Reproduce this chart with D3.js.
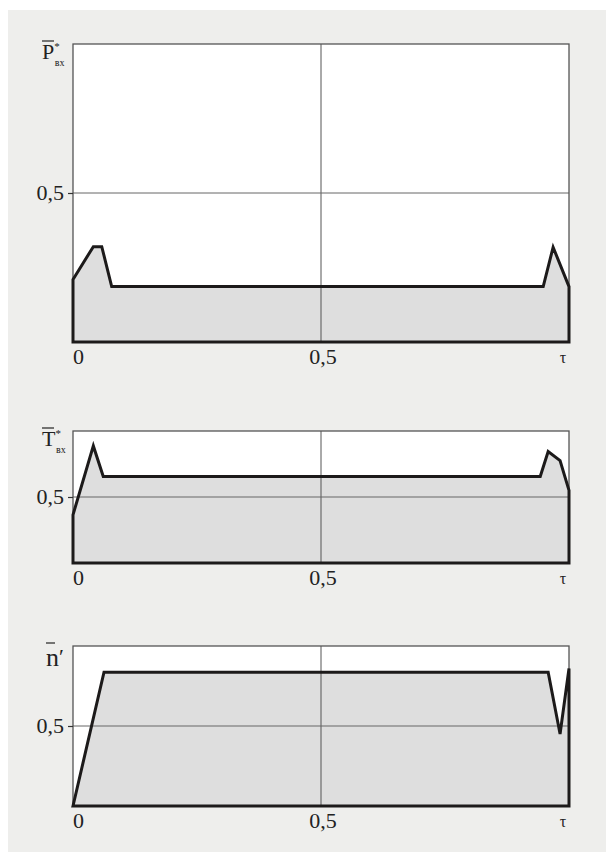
<!DOCTYPE html>
<html>
<head>
<meta charset="utf-8">
<script src="https://cdn.jsdelivr.net/npm/d3@7/dist/d3.min.js"></script>
<style>
  body { margin: 0; background: #ffffff; }
  svg { display: block; }
  text { font-family: "Liberation Serif", "Times New Roman", serif; }
</style>
</head>
<body>
<script>
// relative time τ and normalised values
const tauP = [0, 0.041, 0.058, 0.078, 0.948, 0.968, 1.0];
const valP = [0.21, 0.32, 0.32, 0.186, 0.186, 0.318, 0.186];

const tauT = [0, 0.041, 0.061, 0.942, 0.958, 0.982, 1.0];
const valT = [0.365, 0.887, 0.655, 0.655, 0.844, 0.776, 0.55];

const tauN = [0, 0.0625, 0.958, 0.982, 1.0];
const valN = [0, 0.836, 0.836, 0.45, 0.86];

const xTickValues = [0, 0.5, 1];
const xTickLabels = ["0", "0,5", "τ"];
const yTickValues = [0.5];
const yTickLabels = ["0,5"];

const width = 606, height = 860;
const left = 73, right = 569;

const svg = d3.select("body").append("svg")
  .attr("width", width)
  .attr("height", height);

svg.append("rect")
  .attr("x", 8).attr("y", 10)
  .attr("width", width - 8).attr("height", 842)
  .attr("fill", "#eeeeec");

const panels = [
  { tau: tauP, val: valP, top: 44, bottom: 342, letter: "P", sup: "*", sub: "вх", lx: 42, lsize: 22 },
  { tau: tauT, val: valT, top: 431, bottom: 563, letter: "T", sup: "*", sub: "вх", lx: 42, lsize: 22 },
  { tau: tauN, val: valN, top: 646, bottom: 806, letter: "n", sup: "′", sub: "", lx: 46, lsize: 26 }
];

const x = d3.scaleLinear().domain([0, 1]).range([left, right]);

panels.forEach(p => {
  const y = d3.scaleLinear().domain([0, 1]).range([p.bottom, p.top]);
  const g = svg.append("g");

  g.append("rect")
    .attr("x", x(0)).attr("y", y(1))
    .attr("width", x(1) - x(0)).attr("height", y(0) - y(1))
    .attr("fill", "#ffffff");

  const data = p.tau.map((t, i) => ({ t: t, v: p.val[i] }));
  const area = d3.area()
    .x(d => x(d.t))
    .y0(y(0))
    .y1(d => y(d.v));

  g.append("path")
    .datum(data)
    .attr("d", area)
    .attr("fill", "#dedede");

  // grid lines at 0,5
  g.append("line")
    .attr("x1", x(0.5)).attr("x2", x(0.5))
    .attr("y1", y(0)).attr("y2", y(1))
    .attr("stroke", "#555").attr("stroke-width", 1);
  g.append("line")
    .attr("x1", x(0)).attr("x2", x(1))
    .attr("y1", y(0.5)).attr("y2", y(0.5))
    .attr("stroke", "#666").attr("stroke-width", 1);

  g.append("rect")
    .attr("x", x(0)).attr("y", y(1))
    .attr("width", x(1) - x(0)).attr("height", y(0) - y(1))
    .attr("fill", "none")
    .attr("stroke", "#555").attr("stroke-width", 1.3);

  g.append("path")
    .datum(data)
    .attr("d", area)
    .attr("fill", "none")
    .attr("stroke", "#1c1a1a")
    .attr("stroke-width", 3)
    .attr("stroke-linejoin", "miter");

  // y axis
  const yAxis = g.append("g")
    .attr("transform", "translate(" + x(0) + ",0)")
    .call(d3.axisLeft(y).tickValues(yTickValues)
      .tickFormat((d, i) => yTickLabels[i])
      .tickSize(5).tickSizeOuter(0).tickPadding(4));
  yAxis.select(".domain").remove();
  yAxis.selectAll("line").attr("stroke", "#333").attr("stroke-width", 1.2);
  yAxis.selectAll("text")
    .attr("font-family", null)
    .attr("font-size", 22)
    .attr("fill", "#222")
    .attr("dy", "0.3em");

  // x labels
  g.selectAll(".xl")
    .data(xTickValues)
    .enter()
    .append("text")
      .attr("x", (d, i) => i === 0 ? x(d) : (i === 1 ? x(d) + 2 : x(d) - 6))
      .attr("y", (d, i) => i === 2 ? y(0) + 21 : y(0) + 22)
      .attr("text-anchor", (d, i) => i === 0 ? "start" : "middle")
      .attr("font-size", (d, i) => i === 2 ? 16 : 22)
      .attr("fill", "#222")
      .text((d, i) => xTickLabels[i]);

  // panel label with overline
  const base = y(1) + (p.letter === "n" ? 20 : 15);
  const lab = g.append("text")
    .attr("x", p.lx).attr("y", base)
    .attr("fill", "#222");
  lab.append("tspan").attr("font-size", p.lsize).text(p.letter);
  if (p.letter === "n") {
    lab.append("tspan").attr("font-size", 22).attr("dy", -2).text(p.sup);
  } else {
    lab.append("tspan").attr("font-size", 11).attr("dy", -9).text(p.sup);
    lab.append("tspan").attr("font-size", 10).attr("dx", -5).attr("dy", 16).text(p.sub);
  }
  const olY = y(1) - 3;
  g.append("line")
    .attr("x1", p.lx).attr("x2", p.lx + (p.letter === "n" ? 9 : 12))
    .attr("y1", olY).attr("y2", olY)
    .attr("stroke", "#222").attr("stroke-width", 1.2);
});
</script>
</body>
</html>
